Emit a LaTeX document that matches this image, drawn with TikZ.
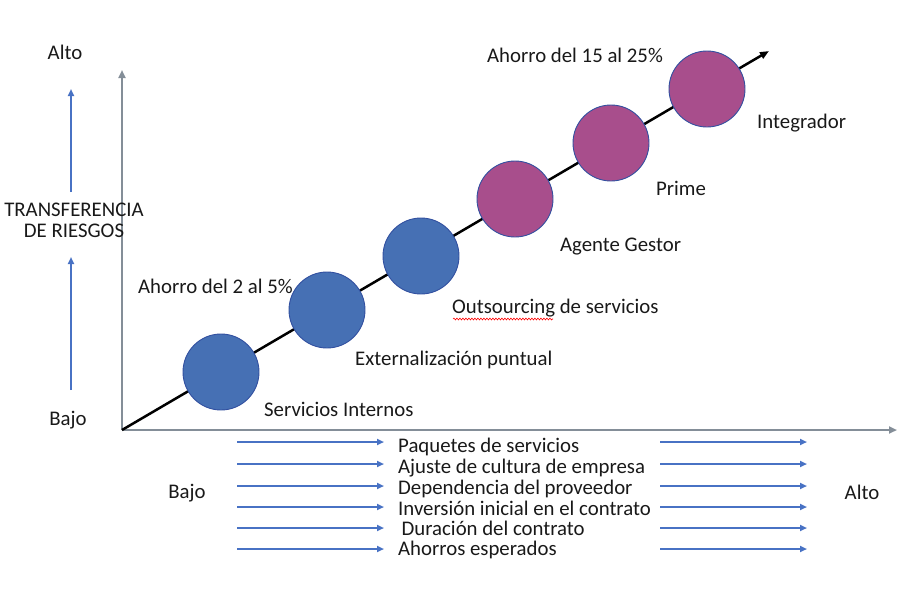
\documentclass[tikz,border=0pt]{standalone}
\usepackage{fontspec}
\setmainfont{Carlito}
\usetikzlibrary{arrows.meta,decorations.pathmorphing}
\definecolor{axisgray}{RGB}{132,142,152}
\definecolor{arrblue}{RGB}{72,114,196}
\definecolor{cblue}{RGB}{70,112,180}
\definecolor{cmag}{RGB}{168,78,140}
\definecolor{cedge}{RGB}{50,80,160}
\definecolor{txt}{RGB}{25,25,25}
\tikzset{
  lbl/.style={font=\fontsize{20.8}{21}\selectfont, text=txt, inner sep=0pt},
  lblw/.style={lbl, anchor=west},
  listw/.style={lblw, text height=12.5pt, text depth=3pt},
  axisline/.style={draw=axisgray, line width=2.5pt, -{Triangle[length=8pt,width=7pt]}},
  bluearr/.style={draw=arrblue, line width=2.5pt, -{Triangle[length=7pt,width=6pt]}},
  ball/.style={circle, minimum size=76pt, inner sep=0pt, draw=cedge, line width=0.9pt},
  bball/.style={ball, fill=cblue},
  mball/.style={ball, fill=cmag},
}
\begin{document}
\begin{tikzpicture}[x=1pt,y=-1pt]
\useasboundingbox (0,0) rectangle (900,600);
% axes
\coordinate (O) at (122,430);
\coordinate (Ytop) at (122,70);
\coordinate (Xend) at (897,430);
\coordinate (Dend) at (769,51);
\draw[axisline] (O) -- (Ytop);
\draw[axisline] (O) -- (Xend);
\draw[line width=2.5pt, black, -{Triangle[length=9pt,width=7pt]}] (O) -- (Dend);
% circles
\node[bball] (c1) at (221,372) {};
\node[bball] (c2) at (327,310) {};
\node[bball] (c3) at (421,256) {};
\node[mball] (c4) at (515,199) {};
\node[mball] (c5) at (611,143) {};
\node[mball] (c6) at (707,89) {};
% circle labels
\node[lblw] (l1) at (264,409) {Servicios Internos};
\node[lblw] (l2) at (355,360) {Externalización puntual};
\node[lblw] (l3) at (452,308) {Outsourcing de servicios};
\node[lblw] (l4) at (560,247) {Agente Gestor};
\node[lblw] (l5) at (656,188) {Prime};
\node[lblw] (l6) at (757,123) {Integrador};
\node[lblw] (s1) at (138,286) {Ahorro del 2 al 5\%};
\node[lblw] (s2) at (487,55) {Ahorro del 15 al 25\%};
\coordinate (wa) at (453,319);
\coordinate (wb) at (553,319);
\draw[red, line width=0.6pt, decorate, decoration={snake, amplitude=0.9pt, segment length=3pt}] (wa) -- (wb);
% left vertical legend
\node[lbl] (alto1) at (65,52) {Alto};
\node[lbl] (bajo1) at (68,420) {Bajo};
\node[lbl, align=center] (tr) at (74,220) {TRANSFERENCIA\\DE RIESGOS};
\coordinate (va1) at (71,192);
\coordinate (vb1) at (71,89);
\coordinate (va2) at (71,390);
\coordinate (vb2) at (71,257);
\draw[bluearr] (va1) -- (vb1);
\draw[bluearr] (va2) -- (vb2);
% bottom legend
\node[lbl] (bajo2) at (187,493) {Bajo};
\node[lbl] (alto2) at (862,492) {Alto};
\foreach \i/\ya/\yt/\t in {1/442/448/Paquetes de servicios,
                          2/464/469/Ajuste de cultura de empresa,
                          3/486/490/Dependencia del proveedor,
                          4/507/511/Inversión inicial en el contrato,
                          5/528/531/{\,Duración del contrato},
                          6/549/551/Ahorros esperados}{
  \node[listw] (b\i) at (398,\yt) {\t};
  \coordinate (la\i) at (237,\ya);
  \coordinate (lb\i) at (384,\ya);
  \coordinate (ra\i) at (660,\ya);
  \coordinate (rb\i) at (807,\ya);
  \draw[bluearr] (la\i) -- (lb\i);
  \draw[bluearr] (ra\i) -- (rb\i);
}
\end{tikzpicture}
\end{document}
